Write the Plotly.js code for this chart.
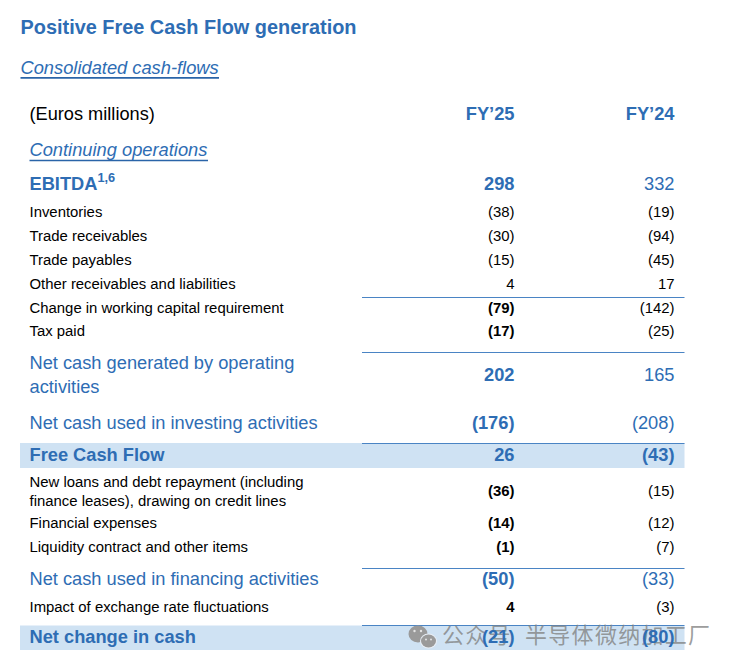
<!DOCTYPE html>
<html><head><meta charset="utf-8">
<script src="https://cdn.plot.ly/plotly-3.0.1.min.js"></script>
<style>html,body{margin:0;padding:0;background:#fff}#c{width:735px;height:667px}</style>
</head><body><div id="c"></div>
<script>
// ---- content ----
const chartTitle = "Positive Free Cash Flow generation";
const tableTitle = "Consolidated cash-flows";
const unitLabel = "(Euros millions)";
const sectionLabel = "Continuing operations";
const columnLabels = ["FY’25", "FY’24"];
const rowLabels = [
  "EBITDA<sup>1,6</sup>", "Inventories", "Trade receivables", "Trade payables",
  "Other receivables and liabilities", "Change in working capital requirement", "Tax paid",
  "Net cash generated by operating<br>activities", "Net cash used in investing activities",
  "Free Cash Flow", "New loans and debt repayment (including<br>finance leases), drawing on credit lines",
  "Financial expenses", "Liquidity contract and other items",
  "Net cash used in financing activities", "Impact of exchange rate fluctuations", "Net change in cash"
];
const fy25Values = [298, -38, -30, -15, 4, -79, -17, 202, -176, 26, -36, -14, -1, -50, 4, -21];
const fy24Values = [332, -19, -94, -45, 17, -142, -25, 165, -208, -43, -15, -12, -7, -33, -3, -80];
const watermarkA = "公众号";
const watermarkB = "半导体微纳加工厂";

// ---- layout & style (page pixels) ----
const rowY   = [185.5,213.5,237.5,261.5,285.5,309.5,332.5,376.5,424.5,456,492.5,524.5,548.5,580.5,608.5,638];
const big    = [1,0,0,0,0,0,0,1,1,1,0,0,0,1,0,1];          // blue large rows
const labBold= [1,0,0,0,0,0,0,0,0,1,0,0,0,0,0,1];
const b25    = [1,0,0,0,0,1,1,1,1,1,1,1,1,1,1,1];
const b24    = [0,0,0,0,0,0,0,0,0,1,0,0,0,0,0,1];
const BLUE="#2E6DB4", INK="#000000", FONT="Liberation Sans, Arial, sans-serif", CJK="Noto Sans CJK SC, sans-serif";
const BIG=18.25, SMALL=14.9, X_LAB=29.5, X_25=514.5, X_24=674.5;
const fmt = v => v < 0 ? "(" + Math.abs(v) + ")" : String(v);
const colorOf = i => big[i] ? BLUE : INK;
const sizeOf = i => big[i] ? BIG : SMALL;
const idx = rowLabels.map((_, i) => i);
const GREY="rgba(130,130,130,0.78)", WM=22, WM_STEP=23.3;

function textTrace(x, y, text, pos, font){
  return {type:"scatter", mode:"text", x, y, text, textposition:pos, textfont:font, hoverinfo:"skip", showlegend:false, cliponaxis:false};
}
const wmA=[...watermarkA], wmB=[...watermarkB];
const traces = [
  textTrace(wmA.map((_,i)=>442+i*WM_STEP),wmA.map(()=>637),wmA,"middle right",{family:CJK,size:WM,color:GREY}),
  textTrace(wmB.map((_,i)=>525+i*WM_STEP),wmB.map(()=>637),wmB,"middle right",{family:CJK,size:WM,color:GREY}),
  textTrace(rowLabels.map(()=>X_LAB), rowY, rowLabels, "middle right",
    {family:FONT, size:idx.map(sizeOf), color:idx.map(colorOf), weight:labBold.map(b=>b?700:400)}),
  textTrace(fy25Values.map(()=>X_25), rowY, fy25Values.map(fmt), "middle left",
    {family:FONT, size:idx.map(sizeOf), color:idx.map(colorOf), weight:b25.map(b=>b?700:400)}),
  textTrace(fy24Values.map(()=>X_24), rowY, fy24Values.map(fmt), "middle left",
    {family:FONT, size:idx.map(sizeOf), color:idx.map(colorOf), weight:b24.map(b=>b?700:400)}),
  textTrace([20.5],[29],[chartTitle],"middle right",{family:FONT,size:19.9,color:BLUE,weight:700}),
  textTrace([20.5],[69.5],[tableTitle],"middle right",{family:FONT,size:18.3,color:BLUE,style:"italic"}),
  textTrace([29.5],[115.5],[unitLabel],"middle right",{family:FONT,size:18.2,color:INK}),
  textTrace([29.5],[151],[sectionLabel],"middle right",{family:FONT,size:18.3,color:BLUE,style:"italic"}),
  textTrace([X_25,X_24],[115.5,115.5],columnLabels,"middle left",{family:FONT,size:18.3,color:BLUE,weight:700})
];
const RULE="#4A84C4", BAND="#CFE2F3", UL="#2A64A8";
const rect=(x0,x1,y0,y1,c)=>({type:"rect",layer:"below",x0,x1,y0,y1,fillcolor:c,line:{width:0}});
const hline=(x0,x1,y,c,w)=>({type:"line",layer:"below",x0,x1,y0:y,y1:y,line:{color:c,width:w}});
const dot=(cx,cy,rx,ry,c)=>({type:"circle",layer:"below",x0:cx-rx,x1:cx+rx,y0:cy-ry,y1:cy+ry,fillcolor:c,line:{width:0}});
const ICON="#9a9a9a", EYE="#e4e4e4";
const shapes=[
  rect(20,684.5,443,468,BAND), rect(20,684.5,625.5,650,BAND),
  hline(20.5,219,77.8,UL,1.7), hline(29.5,208,160.5,UL,1.7),
  ...[297.5,352.5,443.5,568.5,625.5].map(y=>hline(362,684.5,y,RULE,1.1)),
  dot(418,634,9.5,8.5,ICON), dot(428.5,641,8.5,7.5,"#e8eef5"), dot(428.5,641,7.5,6.5,ICON),
  dot(414.5,631,1.2,1.2,EYE), dot(421,631,1.2,1.2,EYE), dot(426,639.5,1,1,EYE), dot(431,639.5,1,1,EYE)
];
Plotly.newPlot("c",traces,{
  width:735,height:667,margin:{l:0,r:0,t:0,b:0,pad:0},
  paper_bgcolor:"#fff",plot_bgcolor:"#fff",showlegend:false,
  xaxis:{range:[0,735],visible:false,fixedrange:true},
  yaxis:{range:[667,0],visible:false,fixedrange:true},
  shapes
},{displayModeBar:false,staticPlot:true});
</script></body></html>
